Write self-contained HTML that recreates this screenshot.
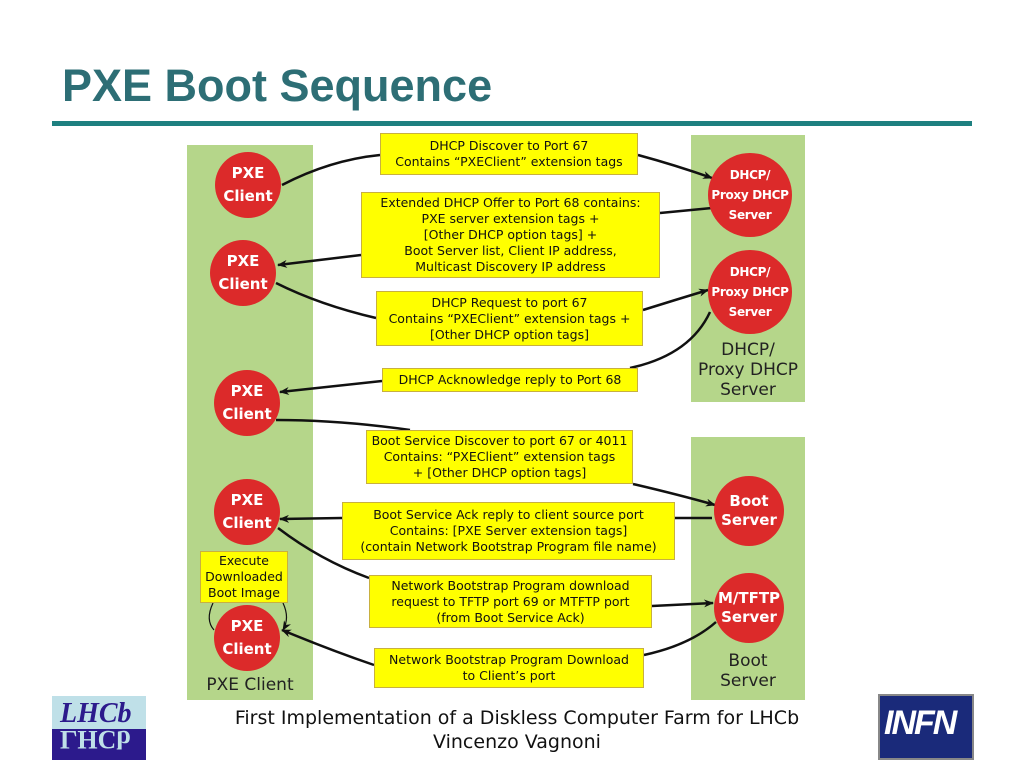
<!DOCTYPE html>
<html><head><style>
body{margin:0;width:1024px;height:768px;background:#fff;position:relative;overflow:hidden;font-family:"DejaVu Sans","Liberation Sans",sans-serif}
.a{position:absolute}
.g{position:absolute;background:#b5d68a}
.y{position:absolute;background:#ffff00;border:1px solid #c8b040;box-sizing:border-box;text-align:center;font-size:12.5px;line-height:16px;color:#111;display:flex;flex-direction:column;justify-content:center;white-space:nowrap}
.c{position:absolute;border-radius:50%;background:#dc2a2a;color:#fff;font-weight:bold;text-align:center;display:flex;flex-direction:column;justify-content:center;font-size:15px;line-height:23px;white-space:nowrap}
.s{font-size:12px;line-height:20px;letter-spacing:-0.3px}
.lbl{position:absolute;text-align:center;font-size:17px;line-height:20px;color:#222}
</style></head><body>
<div class="a" style="left:62px;top:60px;font:bold 45px 'Liberation Sans',sans-serif;color:#2d6e75">PXE Boot Sequence</div>
<div class="a" style="left:52px;top:121px;width:920px;height:5px;background:#1e8080"></div>

<div class="g" style="left:187px;top:145px;width:126px;height:555px"></div>
<div class="g" style="left:691px;top:135px;width:114px;height:267px"></div>
<div class="g" style="left:691px;top:437px;width:114px;height:263px"></div>

<svg class="a" style="left:0;top:0" width="1024" height="768">
<defs><marker id="m" markerWidth="10" markerHeight="8" refX="9" refY="4" orient="auto" markerUnits="userSpaceOnUse" viewBox="0 0 10 8"><path d="M0,0L10,4L0,8L3,4z" fill="#111"/></marker></defs>
<g fill="none" stroke="#111" stroke-width="2.5">
<path d="M282,185 Q330,160 380,155"/>
<path d="M638,155 Q675,165 712,178" marker-end="url(#m)"/>
<path d="M712,208 Q690,210 660,213"/>
<path d="M361,255 L278,265" marker-end="url(#m)"/>
<path d="M276,283 Q320,305 376,318"/>
<path d="M643,310 Q675,300 708,290" marker-end="url(#m)"/>
<path d="M710,312 Q690,355 630,368"/>
<path d="M382,381 L280,392" marker-end="url(#m)"/>
<path d="M276,420 Q340,420 410,430"/>
<path d="M633,484 Q680,495 715,505" marker-end="url(#m)"/>
<path d="M712,518 L675,518"/>
<path d="M342,518 L280,519" marker-end="url(#m)"/>
<path d="M278,528 Q320,560 369,578"/>
<path d="M652,606 L713,603" marker-end="url(#m)"/>
<path d="M716,622 Q690,645 644,655"/>
<path d="M374,665 Q330,650 282,630" marker-end="url(#m)"/>
</g>
<g fill="none" stroke="#111" stroke-width="1.2">
<path d="M213,603 Q205,620 214,630"/>
<path d="M283,603 Q290,618 283,630" marker-end="url(#m)"/>
</g>
</svg>

<div class="c" style="left:215px;top:152px;width:66px;height:66px">PXE<br>Client</div>
<div class="c" style="left:210px;top:240px;width:66px;height:66px">PXE<br>Client</div>
<div class="c" style="left:214px;top:370px;width:66px;height:66px">PXE<br>Client</div>
<div class="c" style="left:214px;top:479px;width:66px;height:66px">PXE<br>Client</div>
<div class="c" style="left:214px;top:605px;width:66px;height:66px">PXE<br>Client</div>

<div class="c s" style="left:708px;top:153px;width:84px;height:84px">DHCP/<br>Proxy DHCP<br>Server</div>
<div class="c s" style="left:708px;top:250px;width:84px;height:84px">DHCP/<br>Proxy DHCP<br>Server</div>
<div class="c" style="left:714px;top:476px;width:70px;height:70px;line-height:19px">Boot<br>Server</div>
<div class="c" style="left:714px;top:573px;width:70px;height:70px;line-height:19px">M/TFTP<br>Server</div>

<div class="lbl" style="left:686px;top:340px;width:124px">DHCP/<br>Proxy DHCP<br>Server</div>
<div class="lbl" style="left:691px;top:651px;width:114px">Boot<br>Server</div>
<div class="lbl" style="left:187px;top:675px;width:126px">PXE Client</div>

<div class="y" style="left:380px;top:133px;width:258px;height:42px">DHCP Discover to Port 67<br>Contains “PXEClient” extension tags</div>
<div class="y" style="left:361px;top:192px;width:299px;height:86px">Extended DHCP Offer to Port 68 contains:<br>PXE server extension tags +<br>[Other DHCP option tags] +<br>Boot Server list, Client IP address,<br>Multicast Discovery IP address</div>
<div class="y" style="left:376px;top:291px;width:267px;height:55px">DHCP Request to port 67<br>Contains “PXEClient” extension tags +<br>[Other DHCP option tags]</div>
<div class="y" style="left:382px;top:368px;width:256px;height:24px">DHCP Acknowledge reply to Port 68</div>
<div class="y" style="left:366px;top:430px;width:267px;height:54px">Boot Service Discover to port 67 or 4011<br>Contains: “PXEClient” extension tags<br>+ [Other DHCP option tags]</div>
<div class="y" style="left:342px;top:502px;width:333px;height:58px">Boot Service Ack reply to client source port<br>Contains: [PXE Server extension tags]<br>(contain Network Bootstrap Program file name)</div>
<div class="y" style="left:369px;top:575px;width:283px;height:53px">Network Bootstrap Program download<br>request to TFTP port 69 or MTFTP port<br>(from Boot Service Ack)</div>
<div class="y" style="left:374px;top:648px;width:270px;height:40px">Network Bootstrap Program Download<br>to Client’s port</div>
<div class="y" style="left:200px;top:551px;width:88px;height:52px;line-height:16px">Execute<br>Downloaded<br>Boot Image</div>

<div class="a" style="left:0;top:706px;width:1034px;text-align:center;font-size:19px;line-height:24px;color:#111">First Implementation of a Diskless Computer Farm for LHCb<br>Vincenzo Vagnoni</div>

<div class="a" style="left:52px;top:696px;width:94px;height:64px;background:#bfe0e8;overflow:hidden">
<div class="a" style="left:0;top:33px;width:94px;height:31px;background:#2c1a8c"></div>
<div class="a" style="left:8px;top:2px;font:italic bold 28px 'Liberation Serif',serif;color:#2c1a8c">LHCb</div>
<div class="a" style="left:8px;top:28px;font:bold 26px 'Liberation Serif',serif;color:#bfe0e8;transform:scaleY(-1)">LHCb</div>
</div>
<div class="a" style="left:878px;top:694px;width:96px;height:66px;background:#1a2a7a;border:2px solid #888;box-sizing:border-box">
<div class="a" style="left:4px;top:8px;font:bold italic 34px 'Liberation Sans',sans-serif;color:#fff;letter-spacing:-2px">INFN</div>
</div>
</body></html>
